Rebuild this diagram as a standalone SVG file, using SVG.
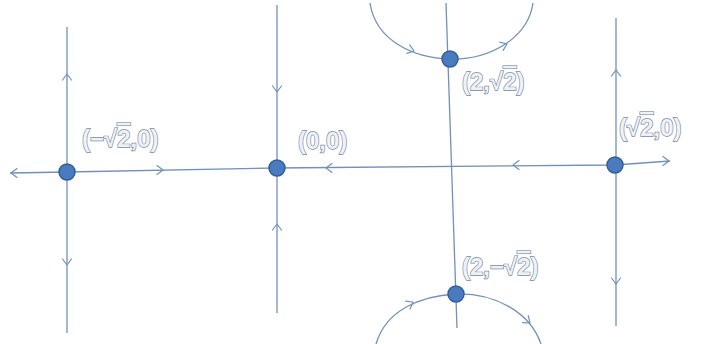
<svg xmlns="http://www.w3.org/2000/svg" width="703" height="344" viewBox="0 0 703 344">
<style>
.ln{fill:none;stroke:#7191b8;stroke-width:1.3}
.chev{fill:none;stroke:#7191b8;stroke-width:1.2;stroke-linecap:round;stroke-linejoin:round}
.dot{fill:#4a7bbf;stroke:#2f5f96;stroke-width:1.5}
.lbl{font-family:"Liberation Sans","DejaVu Sans",sans-serif;font-size:24px;font-weight:bold;fill:#eef2f7;stroke:#7587a0;stroke-width:1.3;paint-order:stroke}
</style>
<defs>
<path id="ch" class="chev" d="M-6,-4.5 L0,0 L-6,4.5"/>
</defs>
<rect width="703" height="344" fill="#ffffff"/>
<g id="connectors">
<polyline class="ln" points="10,173 67,172 276,168 615,165 670,161"/>
<line class="ln" x1="67" y1="27" x2="67" y2="333"/>
<line class="ln" x1="277" y1="5" x2="277" y2="313"/>
<line class="ln" x1="616" y1="18" x2="616" y2="326"/>
<line class="ln" x1="446" y1="3" x2="457" y2="328"/>
<path class="ln" d="M370,3 C376,42 415,58 450,59 C490,60 528,38 533,3"/>
<path class="ln" d="M376,344 C386,310 420,296 456,294 C495,293 530,312 541,344"/>
<use href="#ch" transform="translate(11,173) rotate(180)"/>
<use href="#ch" transform="translate(669,161)"/>
<use href="#ch" transform="translate(163,170)"/>
<use href="#ch" transform="translate(326,168) rotate(180)"/>
<use href="#ch" transform="translate(513,165) rotate(180)"/>
<use href="#ch" transform="translate(67,74) rotate(-90)"/>
<use href="#ch" transform="translate(67,265) rotate(90)"/>
<use href="#ch" transform="translate(277,92) rotate(90)"/>
<use href="#ch" transform="translate(277,224) rotate(-90)"/>
<use href="#ch" transform="translate(616,70) rotate(-90)"/>
<use href="#ch" transform="translate(616,284) rotate(90)"/>
<use href="#ch" transform="translate(414,51) rotate(18)"/>
<use href="#ch" transform="translate(507,44) rotate(-22)"/>
<use href="#ch" transform="translate(413,302) rotate(-30)"/>
<use href="#ch" transform="translate(530,323) rotate(40)"/>
</g>
<g id="node-neg-sqrt2-0">
<circle class="dot" cx="67" cy="172" r="8"/>
<text class="lbl" x="82" y="147">(−√<tspan text-decoration="overline">2</tspan>,0)</text>
</g>
<g id="node-0-0">
<circle class="dot" cx="277" cy="168" r="8"/>
<text class="lbl" x="298" y="149">(0,0)</text>
</g>
<g id="node-2-sqrt2">
<circle class="dot" cx="450" cy="59" r="8"/>
<text class="lbl" x="462" y="90">(2,√<tspan text-decoration="overline">2</tspan>)</text>
</g>
<g id="node-sqrt2-0">
<circle class="dot" cx="615" cy="165" r="8"/>
<text class="lbl" x="619" y="136">(√<tspan text-decoration="overline">2</tspan>,0)</text>
</g>
<g id="node-2-neg-sqrt2">
<circle class="dot" cx="456" cy="294" r="8"/>
<text class="lbl" x="462" y="275">(2,−√<tspan text-decoration="overline">2</tspan>)</text>
</g>
</svg>
